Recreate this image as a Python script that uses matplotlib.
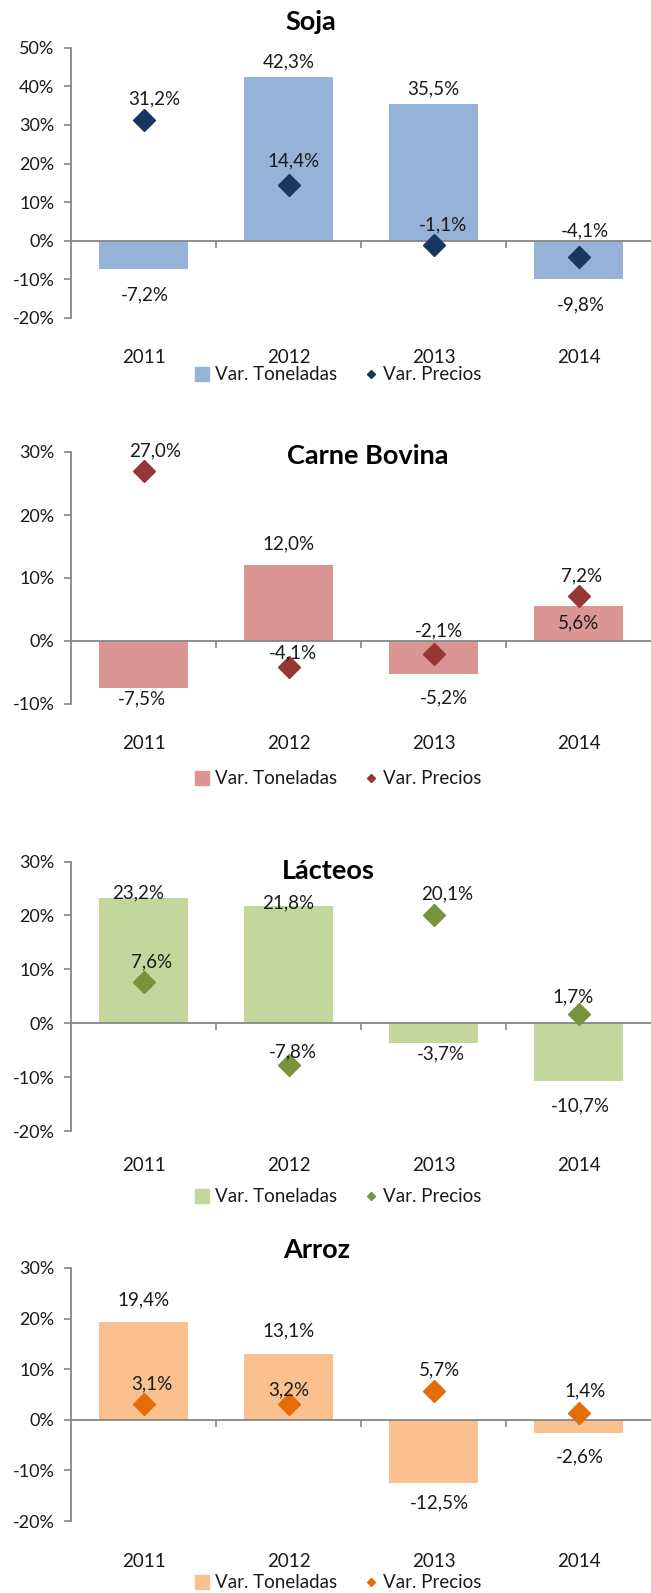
import matplotlib
matplotlib.use("Agg")
from matplotlib import pyplot as plt
from matplotlib.lines import Line2D
from matplotlib.ticker import FuncFormatter, MultipleLocator

plt.rcParams['font.family'] = ['Lato', 'DejaVu Sans']

# datos (variación %)
years = ["2011", "2012", "2013", "2014"]
soja_ton = [-7.2, 42.3, 35.5, -9.8]
soja_precio = [31.2, 14.4, -1.1, -4.1]
carne_ton = [-7.5, 12.0, -5.2, 5.6]
carne_precio = [27.0, -4.1, -2.1, 7.2]
lacteos_ton = [23.2, 21.8, -3.7, -10.7]
lacteos_precio = [7.6, -7.8, 20.1, 1.7]
arroz_ton = [19.4, 13.1, -12.5, -2.6]
arroz_precio = [3.1, 3.2, 5.7, 1.4]

W, H = 651, 1593
fig = plt.figure(figsize=(W / 100, H / 100), dpi=100)
GRIS = "#868686"
FS = 13.5


def pct(v):
    return ("%.1f%%" % v).replace(".", ",")


def panel(titulo, ton, precio, c_bar, c_mark, ylim, top_px, bot_px, title_xy,
          year_pad, legend_y, bar_off, bar_dx, pr_off, pr_dx):
    left = 71
    ax = fig.add_axes([left / W, 1 - bot_px / H, (W - left) / W, (bot_px - top_px) / H])
    x = range(len(years))
    ax.bar(x, ton, width=0.62, color=c_bar, zorder=2)
    ax.plot(x, precio, linestyle="none", marker="D", markersize=11.5,
            color=c_mark, zorder=4)
    ax.axhline(0, color=GRIS, lw=1.3, zorder=3)
    ax.set_xlim(-0.5, 3.5)
    ax.set_ylim(*ylim)
    ax.yaxis.set_major_locator(MultipleLocator(10))
    ax.yaxis.set_major_formatter(FuncFormatter(lambda v, p: "%d%%" % round(v)))
    for s in ["top", "right", "bottom"]:
        ax.spines[s].set_visible(False)
    ax.spines["left"].set_color(GRIS)
    ax.spines["left"].set_linewidth(1.3)
    ax.tick_params(axis="y", direction="out", length=5, width=1.2, color=GRIS,
                   labelsize=13, pad=7, labelcolor="#1a1a1a")
    ax.set_xticks(list(x))
    ax.set_xticklabels(years)
    ax.tick_params(axis="x", length=0, labelsize=FS, pad=year_pad, labelcolor="#1a1a1a")

    # marcas entre categorías sobre el eje 0
    frac = (0 - ylim[0]) / (ylim[1] - ylim[0])
    sec = ax.secondary_xaxis(frac)
    sec.set_xticks([0.5, 1.5, 2.5])
    sec.set_xticklabels([])
    sec.spines["bottom"].set_visible(False)
    sec.tick_params(direction="out", length=5, width=1.2, color=GRIS)

    for i in x:
        ax.annotate(pct(ton[i]), (i, ton[i]), xytext=(bar_dx[i], bar_off[i]),
                    textcoords="offset pixels", ha="center", va="center",
                    fontsize=FS, color="#1a1a1a", zorder=5)
        ax.annotate(pct(precio[i]), (i, precio[i]), xytext=(pr_dx[i], pr_off[i]),
                    textcoords="offset pixels", ha="center", va="center",
                    fontsize=FS, color="#1a1a1a", zorder=5)

    fig.text(title_xy[0] / W, 1 - title_xy[1] / H, titulo, ha="center", va="center",
             fontsize=19.5, fontweight="bold")

    handles = [Line2D([], [], linestyle="none", marker="s", markersize=9.5, color=c_bar),
               Line2D([], [], linestyle="none", marker="D", markersize=4.2, color=c_mark)]
    fig.legend(handles, ["Var. Toneladas", "Var. Precios"], loc="center",
               bbox_to_anchor=(338 / W, 1 - legend_y / H), ncol=2, frameon=False,
               fontsize=FS, handlelength=0.8, handletextpad=0.25, columnspacing=1.4,
               borderpad=0, borderaxespad=0, labelcolor="#1a1a1a")
    return ax


panel("Soja", soja_ton, soja_precio, "#95B3D7", "#17375E", (-20, 50), 47.7, 318,
      (311, 22.5), 22, 375,
      [-26, 16, 15, -26], [1, 0, 0, 2], [21, 24, 20, 26], [11, 5, 10, 6])

panel("Carne Bovina", carne_ton, carne_precio, "#D99694", "#953735", (-10, 30), 452, 704,
      (368, 456), 22, 779,
      [-11, 22, -24, -17], [-2, 0, 10, 0], [20, 14, 23, 20], [12, 4, 5, 3])

panel("Lácteos", lacteos_ton, lacteos_precio, "#C3D69B", "#77933C", (-20, 30), 861.5, 1131,
      (328, 871), 19, 1197,
      [5, 3, -11, -25], [-5, 0, 7, 2], [20, 13, 21, 17], [8, 4, 14, -5])

panel("Arroz", arroz_ton, arroz_precio, "#FAC090", "#E46C0A", (-20, 30), 1268, 1521,
      (317, 1250), 23, 1583,
      [22, 23, -20, -24], [0, 0, 6, 1], [20, 13.5, 21, 22], [8, 0, 6, 7])

plt.savefig("out.png", dpi=100)
